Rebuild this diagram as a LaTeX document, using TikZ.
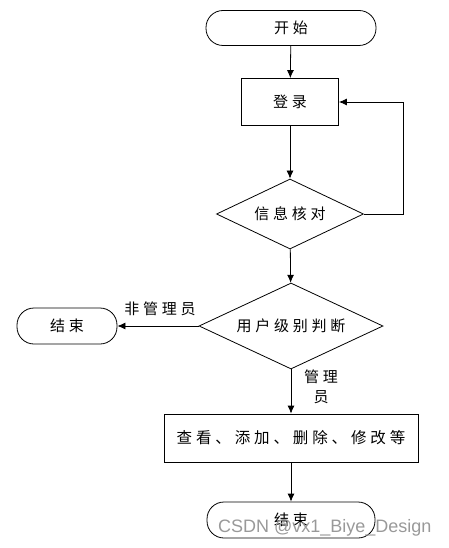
\documentclass[tikz,border=0pt]{standalone}
\usepackage{fontspec}
\setmainfont{Noto Sans CJK SC}[LetterSpace=25]
\newfontfamily\wmfont{Liberation Sans}
\usetikzlibrary{shapes.geometric,arrows.meta}
\begin{document}
\begin{tikzpicture}[x=1pt,y=-1pt,
  every node/.style={font=\fontsize{15}{18}\selectfont},
  term/.style={draw,line width=0.8pt,rectangle,rounded corners=17pt,inner sep=0pt},
  proc/.style={draw,line width=0.8pt,rectangle,inner sep=0pt},
  dec/.style={draw,line width=0.8pt,diamond,inner sep=0pt,aspect=2.1},
  arr/.style={line width=0.8pt,-{Latex[length=8pt,width=7pt]}},
  lbl/.style={inner sep=1pt}
]
\useasboundingbox (0,0) rectangle (449,548);
\node[term,minimum width=170pt,minimum height=35pt] (start) at (291,28) {开始};
\node[proc,minimum width=97pt,minimum height=47pt] (login) at (290,102) {登录};
\node[dec,minimum width=147pt,minimum height=70pt] (check) at (290,214) {信息核对};
\node[dec,minimum width=184pt,minimum height=86pt] (judge) at (291,326) {用户级别判断};
\node[term,minimum width=100pt,minimum height=36pt] (endL) at (67,326) {结束};
\node[proc,minimum width=254pt,minimum height=48pt,font=\fontsize{15.5}{18}\selectfont] (ops) at (291,438) {查看、添加、删除、修改等};
\node[term,minimum width=168pt,minimum height=36pt] (endB) at (291,520) {结束};
\coordinate (fb) at (403,102);
\draw[arr] (start) -- (login);
\draw[arr] (login) -- (check);
\draw[arr] (check.east) -| (fb) -- (login.east);
\draw[arr] (check) -- (judge);
\draw[arr] (judge.west) -- (endL.east);
\draw[arr] (judge) -- (ops);
\draw[arr] (ops) -- (endB);
\node[lbl] (l1) at (160,309) {非管理员};
\node[lbl,align=center,font=\fontsize{15}{20}\selectfont] (l2) at (321,387) {管理\\员};
\node[text=gray!80,font=\wmfont\fontsize{18}{20}\selectfont,anchor=base west,inner sep=0pt] (wm) at (218,532) {CSDN @vx1\_Biye\_Design};
\end{tikzpicture}
\end{document}
